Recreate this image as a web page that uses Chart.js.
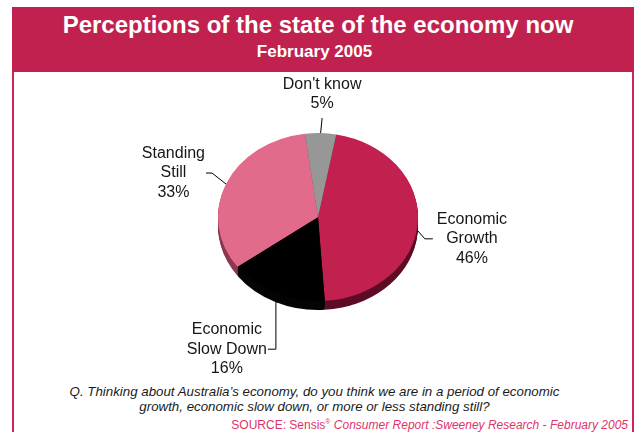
<!DOCTYPE html>
<html>
<head>
<meta charset="utf-8">
<script src="https://cdn.jsdelivr.net/npm/chart.js@4/dist/chart.umd.min.js"></script>
<style>
  html, body { margin: 0; padding: 0; background: #ffffff; }
  #page { position: relative; width: 637px; height: 432px; overflow: hidden; font-family: "Liberation Sans", Arial, sans-serif; }
  #banner { position: absolute; left: 12px; top: 7px; width: 622px; height: 65px; background: #C1214F; }
  .rule { position: absolute; top: 72px; width: 2px; height: 360px; background: #CE2559; }
  .title { position: absolute; left: 0; width: 636px; top: 12.7px; text-align: center; color: #ffffff;
           font: bold 24px/24px "Liberation Sans", Arial, sans-serif; white-space: nowrap; }
  .subtitle { position: absolute; left: 0; width: 629px; top: 42.6px; text-align: center; color: #ffffff;
              font: bold 17px/17px "Liberation Sans", Arial, sans-serif; white-space: nowrap; }
  .question { position: absolute; left: 0; width: 629px; text-align: center; color: #1a1a1a;
              font: italic 13.3px/13.3px "Liberation Sans", Arial, sans-serif; white-space: nowrap; }
  .source { position: absolute; right: 9px; top: 419px; color: #E0336A; white-space: nowrap;
            font: 12px/12px "Liberation Sans", Arial, sans-serif; }
  .source i { font-style: italic; }
  .source sup { font-size: 7px; vertical-align: 5px; line-height: 0; }
  #chartBox { position: absolute; left: 0; top: 0; width: 637px; height: 432px; }
</style>
</head>
<body>
<div id="page">
  <div id="banner"></div>
  <div class="rule" style="left:12px"></div>
  <div class="rule" style="left:632px"></div>
  <div class="title">Perceptions of the state of the economy now</div>
  <div class="subtitle">February 2005</div>
  <div class="question" style="top:385px">Q. Thinking about Australia’s economy, do you think we are in a period of economic</div>
  <div class="question" style="top:400px">growth, economic slow down, or more or less standing still?</div>
  <div class="source">SOURCE: Sensis<sup>®</sup> <i>Consumer Report :Sweeney Research - February 2005</i></div>
  <div id="chartBox"><canvas id="pie" width="637" height="432"></canvas></div>
</div>
<script>
// Survey answers, in clockwise order starting just right of twelve o'clock
const categories = [['Economic', 'Growth'], ['Economic', 'Slow Down'], ['Standing', 'Still'], ["Don't know"]];
const shares = [46, 16, 33, 5];

// Slice styling
const faceColors = ['#C2204F', '#000000', '#E26A8B', '#979797'];
const wallColors = ['#5E0C26', '#050505', '#8E3652', '#555555'];
const TILT = 0.84;     // vertical squash of the pie disc
const DEPTH = 9;       // thickness of the disc, px

// Leader-line geometry for each slice label (relative to the slice rim)
const leaders = [
  { elbow: [7, 8],    tail: 8,  place: 'right' },
  { elbow: [0, 47],   tail: -8, place: 'left' },
  { elbow: [-14, -11], tail: -6, place: 'left' },
  { elbow: [1.5, -15], tail: 0, place: 'top' }
];

// Draws the disc thickness and squashes the pie into an ellipse
const tiltedDisc = {
  id: 'tiltedDisc',
  beforeDatasetsDraw(chart) {
    const ctx = chart.ctx;
    const arcs = chart.getDatasetMeta(0).data;
    const cx = arcs[0].x, cy = arcs[0].y;
    ctx.save();
    ctx.translate(cx, cy);
    ctx.scale(1, TILT);
    ctx.translate(-cx, -cy);
    for (let d = DEPTH; d >= 1; d--) {
      arcs.forEach((el, i) => {
        const oy = el.y + d / TILT;
        ctx.beginPath();
        ctx.moveTo(el.x, oy);
        ctx.arc(el.x, oy, el.outerRadius, el.startAngle, el.endAngle);
        ctx.closePath();
        ctx.fillStyle = wallColors[i];
        ctx.fill();
      });
    }
  },
  afterDatasetsDraw(chart) {
    chart.ctx.restore();
  }
};

// Category names and percentages with leader lines
const sliceLabels = {
  id: 'sliceLabels',
  afterDraw(chart) {
    const ctx = chart.ctx;
    const arcs = chart.getDatasetMeta(0).data;
    const labels = chart.data.labels;
    const values = chart.data.datasets[0].data;
    const lh = 19.5;
    ctx.save();
    ctx.font = '16px "Liberation Sans", Arial, sans-serif';
    ctx.fillStyle = '#161616';
    ctx.strokeStyle = '#000000';
    ctx.lineWidth = 1;
    ctx.textBaseline = 'middle';
    ctx.textAlign = 'center';
    arcs.forEach((el, i) => {
      const mid = (el.startAngle + el.endAngle) / 2;
      const sx = el.x + el.outerRadius * Math.cos(mid);
      const sy = el.y + TILT * el.outerRadius * Math.sin(mid) + (Math.sin(mid) > 0 ? DEPTH : 0);
      const L = leaders[i];
      const ex = sx + L.elbow[0], ey = sy + L.elbow[1];
      const tx = ex + L.tail;
      ctx.beginPath();
      ctx.moveTo(sx, sy);
      ctx.lineTo(ex, ey);
      if (L.tail) ctx.lineTo(tx, ey);
      ctx.stroke();

      const lines = [].concat(labels[i], [values[i] + '%']);
      const w = Math.max(...lines.map(s => ctx.measureText(s).width));
      let bx, by;
      if (L.place === 'right') { bx = tx + 4 + w / 2; by = ey; }
      else if (L.place === 'left') { bx = tx - 1 - w / 2; by = ey; }
      else { bx = ex; by = ey - 14 - (lines.length - 1) * lh / 2; }
      lines.forEach((s, k) => {
        ctx.fillText(s, bx, by + (k - (lines.length - 1) / 2) * lh);
      });
    });
    ctx.restore();
  }
};

new Chart(document.getElementById('pie'), {
  type: 'pie',
  data: {
    labels: categories,
    datasets: [{
      data: shares,
      backgroundColor: faceColors,
      borderWidth: 0,
      hoverOffset: 0,
      offset: 0,
      clip: false
    }]
  },
  options: {
    responsive: false,
    maintainAspectRatio: false,
    animation: false,
    events: [],
    rotation: 10.5,
    layout: { padding: { left: 218, right: 219, top: 117, bottom: 115 } },
    plugins: {
      legend: { display: false },
      tooltip: { enabled: false },
      title: { display: false }
    }
  },
  plugins: [tiltedDisc, sliceLabels]
});
</script>
</body>
</html>
